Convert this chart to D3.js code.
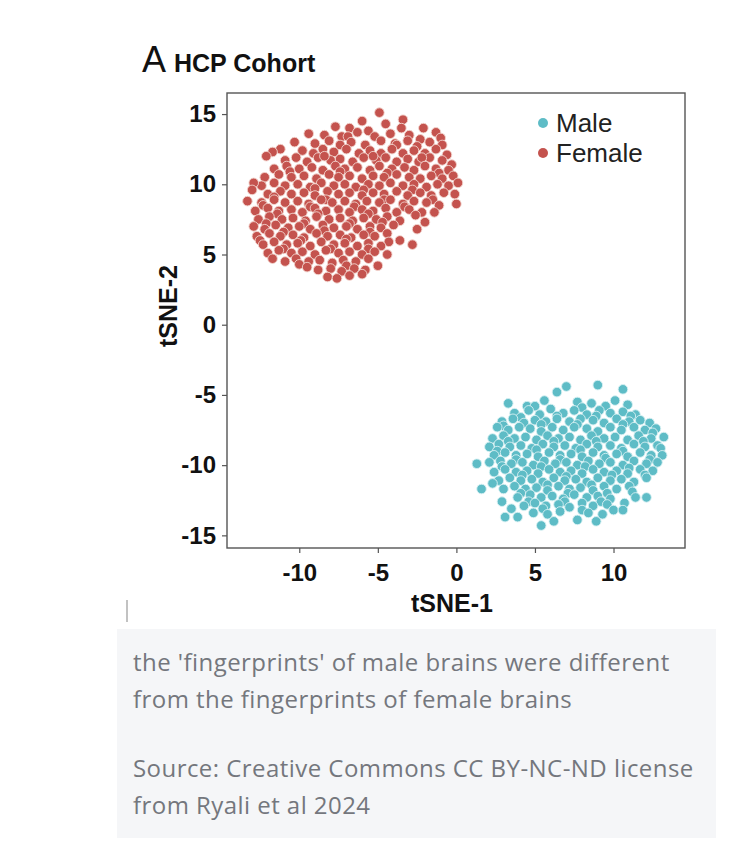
<!DOCTYPE html>
<html>
<head>
<meta charset="utf-8">
<script src="https://cdn.jsdelivr.net/npm/d3@7"></script>
<style>
  body { margin: 0; background: #fff; }
</style>
</head>
<body>
<div id="chart"></div>
<script>
// tSNE coordinates (tSNE-1, tSNE-2)
var female = [
  [-4.9,15.1],[-3.4,14.6],[-6.0,14.5],
  [-7.7,14.1],[-6.8,14.0],[-5.6,13.8],[-4.5,14.3],[-3.5,14.0],[-2.1,14.0],
  [-8.4,13.5],[-7.3,13.4],[-6.3,13.7],[-5.2,13.4],[-4.2,13.6],[-3.0,13.5],[-2.3,13.2],[-1.3,13.7],[-9.4,13.6],[-6.9,13.4],[-1.0,13.3],
  [-10.3,13.0],[-9.0,12.9],[-8.1,13.1],[-7.4,12.8],[-6.7,13.0],[-5.8,12.8],[-4.8,13.1],[-3.9,12.9],[-3.1,13.1],[-2.5,12.7],[-1.7,13.0],[-0.9,12.8],[-3.8,12.8],
  [-11.2,12.5],[-9.8,12.4],[-9.1,12.2],[-8.5,12.5],[-7.8,12.3],[-7.0,12.5],[-6.2,12.2],[-5.5,12.4],[-4.8,12.2],[-4.1,12.5],[-3.4,12.2],[-2.7,12.4],[-2.0,12.2],[-1.3,12.5],[-0.6,12.1],[-11.7,12.3],
  [-12.1,12.0],[-10.9,11.7],[-10.2,11.9],[-9.5,11.6],[-8.8,11.9],[-8.0,11.7],[-7.4,11.8],[-6.6,11.6],[-5.9,11.9],[-5.1,11.7],[-4.5,11.9],[-3.8,11.6],[-3.1,11.8],[-2.4,11.6],[-1.7,11.9],[-0.9,11.7],[-0.3,11.4],[-8.4,12.0],[-5.3,12.0],[-2.2,11.9],
  [-11.6,11.1],[-10.8,11.3],[-10.0,11.1],[-9.2,11.2],[-8.5,11.0],[-7.7,11.3],[-7.1,11.1],[-6.3,11.2],[-5.5,11.0],[-4.9,11.3],[-4.1,11.1],[-3.3,11.2],[-2.7,11.0],[-2.0,11.3],[-1.3,11.1],[-0.5,11.0],
  [-10.6,10.9],[-7.4,10.9],[-4.4,10.8],[-1.1,10.8],
  [-12.2,10.5],[-11.3,10.7],[-10.5,10.5],[-9.7,10.6],[-8.9,10.4],[-8.1,10.7],[-7.5,10.5],[-6.8,10.6],[-6.0,10.4],[-5.3,10.6],[-4.6,10.5],[-3.8,10.7],[-3.0,10.5],[-2.3,10.4],[-1.6,10.6],[-0.9,10.4],[-0.2,10.6],
  [-12.4,9.9],[-11.6,10.1],[-10.9,9.9],[-10.1,10.0],[-9.3,9.8],[-8.6,10.1],[-7.8,9.9],[-7.1,10.0],[-6.4,9.8],[-5.6,10.0],[-4.9,9.9],[-4.2,10.1],[-3.4,9.9],[-2.7,10.0],[-1.9,9.8],[-1.2,10.0],[-0.5,9.9],[0.1,10.1],[-12.9,10.1],
  [-9.0,9.7],[-5.9,9.6],[-2.8,9.6],
  [-13.0,9.6],[-12.0,9.3],[-11.2,9.5],[-10.5,9.3],[-9.7,9.4],[-9.0,9.2],[-8.2,9.5],[-7.5,9.3],[-6.8,9.4],[-6.0,9.2],[-5.3,9.4],[-4.6,9.3],[-3.8,9.5],[-3.1,9.2],[-2.3,9.4],[-1.6,9.2],[-0.8,9.4],[-0.1,9.3],
  [-11.6,9.1],[-8.3,8.9],[-4.6,8.9],[-1.5,8.9],
  [-13.3,8.8],[-12.4,8.7],[-11.6,8.9],[-10.9,8.7],[-10.1,8.8],[-9.4,8.6],[-8.6,8.9],[-7.9,8.7],[-7.1,8.8],[-6.4,8.6],[-5.7,8.8],[-4.9,8.7],[-4.2,8.9],[-3.4,8.6],[-2.7,8.8],[-1.9,8.7],[-1.1,8.5],[0.0,8.6],
  [-12.3,8.5],[-9.3,8.4],[-6.5,8.4],[-3.3,8.4],
  [-12.8,8.1],[-12.0,8.3],[-11.3,8.1],[-10.5,8.2],[-9.8,8.0],[-9.0,8.3],[-8.3,8.1],[-7.5,8.2],[-6.8,8.0],[-6.0,8.2],[-5.3,8.1],[-4.5,8.3],[-3.8,8.0],[-3.0,8.2],[-2.2,8.0],[-1.4,8.0],
  [-11.4,7.9],[-8.8,7.9],[-5.6,7.9],[-2.6,7.8],
  [-12.6,7.5],[-11.9,7.7],[-11.1,7.5],[-10.4,7.6],[-9.6,7.4],[-8.9,7.7],[-8.1,7.5],[-7.4,7.6],[-6.6,7.4],[-5.9,7.6],[-5.1,7.5],[-4.4,7.7],[-3.6,7.4],[-2.0,7.3],
  [-12.1,7.2],[-9.7,7.2],[-6.8,7.2],[-4.7,7.3],
  [-12.9,7.0],[-12.2,6.8],[-11.5,7.1],[-10.7,6.9],[-10.0,7.0],[-9.3,6.8],[-8.5,7.1],[-7.8,6.9],[-7.0,7.0],[-6.3,6.8],[-5.5,7.0],[-4.8,6.9],[-4.0,7.1],[-2.5,6.8],
  [-11.0,6.6],[-8.4,6.7],[-5.5,6.6],
  [-12.7,6.3],[-11.9,6.5],[-11.2,6.3],[-10.4,6.4],[-9.7,6.2],[-8.9,6.5],[-8.2,6.3],[-7.4,6.4],[-6.7,6.2],[-5.9,6.4],[-5.2,6.3],[-4.4,6.5],[-3.6,6.0],
  [-12.5,6.0],[-9.9,6.0],[-7.0,6.1],[-4.3,5.9],
  [-12.3,5.7],[-11.6,5.9],[-10.8,5.7],[-10.1,5.8],[-9.3,5.6],[-8.6,5.9],[-7.8,5.7],[-7.1,5.8],[-6.3,5.6],[-5.6,5.8],[-4.8,5.6],[-2.8,5.7],
  [-11.0,5.4],[-8.0,5.4],[-5.6,5.4],
  [-12.0,5.1],[-11.3,5.3],[-10.5,5.1],[-9.8,5.2],[-9.0,5.0],[-8.3,5.3],[-7.5,5.1],[-6.8,5.2],[-6.0,5.0],[-5.2,5.2],[-4.4,5.0],
  [-11.7,4.7],[-10.9,4.5],[-10.2,4.7],[-9.4,4.5],[-8.7,4.6],[-7.9,4.4],[-7.2,4.6],[-6.4,4.5],[-5.6,4.7],
  [-10.0,4.3],[-7.0,4.2],
  [-9.5,4.1],[-8.8,3.9],[-8.0,4.0],[-7.3,3.8],[-6.5,4.0],[-5.8,3.9],[-5.0,4.2],
  [-8.2,3.4],[-7.6,3.3],[-6.8,3.5],[-6.0,3.6]
];

var male = [
  [7.0,-4.4],[9.0,-4.3],[10.6,-4.6],[6.4,-4.8],
  [3.3,-5.6],[4.5,-5.8],[5.6,-5.4],[7.7,-5.5],[8.6,-5.6],[10.1,-5.4],[10.9,-5.7],
  [5.0,-5.8],[8.0,-5.9],[9.5,-5.8],
  [3.7,-6.3],[4.6,-6.1],[5.3,-6.4],[6.0,-6.0],[6.8,-6.3],[7.5,-6.1],[8.3,-6.4],[9.1,-6.1],[9.8,-6.3],[10.6,-6.2],[11.4,-6.4],
  [4.1,-6.6],[6.4,-6.5],[8.9,-6.5],[11.1,-6.5],
  [2.9,-6.9],[3.6,-6.7],[4.3,-7.0],[5.0,-6.8],[5.7,-6.9],[6.4,-6.7],[7.2,-6.9],[7.9,-6.7],[8.7,-6.8],[9.4,-7.0],[10.2,-6.7],[11.0,-6.9],[11.7,-6.8],[12.3,-7.0],
  [3.0,-7.2],[5.4,-7.1],[7.7,-7.1],[10.6,-7.1],
  [2.6,-7.3],[3.3,-7.5],[4.0,-7.3],[4.7,-7.4],[5.4,-7.6],[6.1,-7.3],[6.8,-7.5],[7.5,-7.3],[8.3,-7.4],[9.0,-7.6],[9.8,-7.3],[10.5,-7.5],[11.3,-7.3],[12.0,-7.5],[12.7,-7.4],
  [12.5,-7.7],
  [2.3,-8.1],[3.0,-7.9],[3.7,-8.1],[4.4,-8.0],[5.1,-8.2],[5.8,-7.9],[6.5,-8.1],[7.2,-8.0],[7.9,-8.2],[8.6,-7.9],[9.4,-8.1],[10.1,-8.0],[10.9,-8.2],[11.6,-7.9],[12.4,-8.1],[13.2,-8.0],
  [3.3,-8.3],[6.2,-8.3],[8.9,-8.3],[11.9,-8.3],
  [2.1,-8.7],[2.7,-8.5],[3.4,-8.7],[4.1,-8.6],[4.8,-8.8],[5.5,-8.5],[6.2,-8.7],[6.9,-8.6],[7.6,-8.8],[8.3,-8.5],[9.0,-8.7],[9.8,-8.6],[10.5,-8.8],[11.3,-8.5],[12.0,-8.7],[12.8,-8.6],
  [2.6,-9.0],[5.1,-8.9],[7.9,-8.9],[10.6,-9.0],[13.0,-8.8],
  [2.4,-9.3],[3.1,-9.1],[3.8,-9.3],[4.5,-9.2],[5.2,-9.4],[5.9,-9.1],[6.6,-9.3],[7.3,-9.2],[8.0,-9.4],[8.7,-9.1],[9.4,-9.3],[10.2,-9.2],[10.9,-9.4],[11.7,-9.1],[12.4,-9.3],[13.1,-9.3],
  [3.8,-9.6],[6.6,-9.6],[9.5,-9.5],[12.3,-9.6],
  [1.3,-9.9],[2.1,-9.8],[2.8,-9.7],[3.5,-9.9],[4.2,-9.8],[4.9,-10.0],[5.6,-9.7],[6.3,-9.9],[7.0,-9.8],[7.7,-10.0],[8.4,-9.7],[9.1,-9.9],[9.8,-9.8],[10.6,-10.0],[11.3,-9.7],[12.1,-9.9],[12.8,-9.8],
  [2.9,-10.1],[5.4,-10.1],[8.2,-10.1],[11.0,-10.2],
  [2.4,-10.5],[3.1,-10.3],[3.8,-10.5],[4.5,-10.4],[5.2,-10.6],[5.9,-10.3],[6.6,-10.5],[7.3,-10.4],[8.0,-10.6],[8.7,-10.3],[9.4,-10.5],[10.2,-10.4],[10.9,-10.6],[11.7,-10.3],[12.5,-10.4],
  [4.2,-10.7],[7.0,-10.8],[9.9,-10.7],[12.0,-10.7],
  [2.7,-11.1],[3.4,-10.9],[4.1,-11.1],[4.8,-11.0],[5.5,-11.2],[6.2,-10.9],[6.9,-11.1],[7.6,-11.0],[8.3,-11.2],[9.0,-10.9],[9.8,-11.1],[10.5,-11.0],[11.3,-11.2],[12.1,-10.9],
  [2.3,-11.3],[5.8,-11.4],[8.6,-11.4],[11.0,-11.5],
  [1.6,-11.7],[3.0,-11.7],[3.7,-11.5],[4.4,-11.7],[5.1,-11.6],[5.8,-11.8],[6.5,-11.5],[7.2,-11.7],[7.9,-11.6],[8.7,-11.8],[9.4,-11.5],[10.2,-11.7],[11.2,-11.9],
  [4.1,-12.0],[7.1,-12.0],[9.6,-12.0],[11.4,-12.3],
  [2.9,-12.6],[3.9,-12.3],[4.7,-12.1],[5.4,-12.3],[6.1,-12.2],[6.8,-12.4],[7.5,-12.1],[8.3,-12.3],[9.0,-12.2],[9.8,-12.4],[12.1,-12.3],
  [4.6,-12.6],[6.9,-12.6],[9.2,-12.6],
  [4.3,-12.9],[5.0,-12.7],[5.7,-12.9],[6.5,-12.8],[7.2,-13.0],[8.0,-12.7],[8.7,-12.9],[9.6,-12.8],[10.7,-12.7],
  [3.5,-13.1],[5.5,-13.1],[8.0,-13.2],[10.0,-13.2],
  [3.1,-13.7],[3.9,-13.7],[4.9,-13.4],[5.8,-13.5],[6.6,-13.3],[7.7,-13.9],[8.4,-13.4],[9.3,-13.5],[10.6,-13.2],
  [5.4,-14.3],[6.2,-14.0],[8.9,-14.0]
];

var xTicks = [-10, -5, 0, 5, 10];
var yTicks = [-15, -10, -5, 0, 5, 10, 15];
var groups = ["Male", "Female"];
var colors = ["#5ebcc6", "#c4534e"];
var caption = [
  "the 'fingerprints' of male brains were different",
  "from the fingerprints of female brains"
];
var source = [
  "Source: Creative Commons CC BY-NC-ND license",
  "from Ryali et al 2024"
];

function init() {
    var w = 756;
    var h = 854;
    var left = 227, right = 685, top = 93, bottom = 548;

    var svg = d3.select("#chart")
        .append("svg")
        .attr("width", w)
        .attr("height", h);

    var xScale = d3.scaleLinear().domain([-14.6, 14.55]).range([left, right]);
    var yScale = d3.scaleLinear().domain([16.5, -15.9]).range([top, bottom]);
    var color = d3.scaleOrdinal().domain(groups).range(colors);

    // title
    var title = svg.append("text")
        .attr("x", 142)
        .attr("y", 72)
        .attr("font-family", "Liberation Sans, Arial, sans-serif")
        .attr("fill", "#111");
    title.append("tspan").attr("font-size", "36px").text("A");
    title.append("tspan").attr("font-size", "25px").attr("font-weight", "bold").attr("dx", 8).text("HCP Cohort");

    // points
    var pts = svg.append("g");
    function drawPoints(data, group) {
        pts.selectAll(null)
            .data(data)
            .enter()
            .append("circle")
            .attr("cx", function(d) { return xScale(d[0]); })
            .attr("cy", function(d) { return yScale(d[1]); })
            .attr("r", 4.8)
            .attr("fill", color(group))
            .attr("stroke", group === "Male" ? "#d8f1f3" : "#f3d6cf")
            .attr("stroke-width", 0.9);
    }
    drawPoints(female, "Female");
    drawPoints(male, "Male");

    // frame
    svg.append("rect")
        .attr("x", left)
        .attr("y", top)
        .attr("width", right - left)
        .attr("height", bottom - top)
        .attr("fill", "none")
        .attr("stroke", "#555")
        .attr("stroke-width", 1.4);

    // axes
    var fmt = function(d) { return String(d); };
    var xAxis = svg.append("g")
        .attr("transform", "translate(0," + bottom + ")")
        .call(d3.axisBottom(xScale).tickValues(xTicks).tickFormat(fmt).tickSize(5).tickPadding(11));
    var yAxis = svg.append("g")
        .attr("transform", "translate(" + left + ",0)")
        .call(d3.axisLeft(yScale).tickValues(yTicks).tickFormat(fmt).tickSize(5).tickPadding(6));
    [xAxis, yAxis].forEach(function(a) {
        a.select(".domain").remove();
        a.selectAll("line").attr("stroke", "#555").attr("stroke-width", 1.2);
        a.selectAll("text")
            .attr("font-family", "Liberation Sans, Arial, sans-serif")
            .attr("font-size", "24px")
            .attr("font-weight", "bold")
            .attr("fill", "#111");
    });

    // axis labels
    svg.append("text")
        .attr("x", 452)
        .attr("y", 612)
        .attr("text-anchor", "middle")
        .attr("font-family", "Liberation Sans, Arial, sans-serif")
        .attr("font-size", "25px")
        .attr("font-weight", "bold")
        .attr("fill", "#111")
        .text("tSNE-1");
    svg.append("text")
        .attr("transform", "translate(177,306) rotate(-90)")
        .attr("text-anchor", "middle")
        .attr("font-family", "Liberation Sans, Arial, sans-serif")
        .attr("font-size", "25px")
        .attr("font-weight", "bold")
        .attr("fill", "#111")
        .text("tSNE-2");

    // legend
    var legend = svg.append("g").selectAll("g")
        .data(groups)
        .enter()
        .append("g")
        .attr("transform", function(d, i) { return "translate(543," + (123 + i * 30) + ")"; });
    legend.append("circle")
        .attr("r", 5)
        .attr("fill", function(d) { return color(d); });
    legend.append("text")
        .attr("x", 13)
        .attr("y", 8.5)
        .attr("font-family", "Liberation Sans, Arial, sans-serif")
        .attr("font-size", "26px")
        .attr("fill", "#222")
        .text(function(d) { return d; });

    // small bar left of caption
    svg.append("line")
        .attr("x1", 127).attr("x2", 127)
        .attr("y1", 600).attr("y2", 622)
        .attr("stroke", "#999")
        .attr("stroke-width", 1.2);

    // caption box
    svg.append("rect")
        .attr("x", 117)
        .attr("y", 629)
        .attr("width", 599)
        .attr("height", 209)
        .attr("fill", "#f5f6f8");

    svg.append("g").selectAll("text")
        .data(caption.concat(source))
        .enter()
        .append("text")
        .attr("x", 133)
        .attr("y", function(d, i) { return [671, 708, 777, 814][i]; })
        .attr("font-family", "Open Sans, sans-serif")
        .attr("font-size", "24px")
        .attr("letter-spacing", "0.45px")
        .attr("fill", "#74777d")
        .text(function(d) { return d; });
}

window.onload = init;
</script>
</body>
</html>
